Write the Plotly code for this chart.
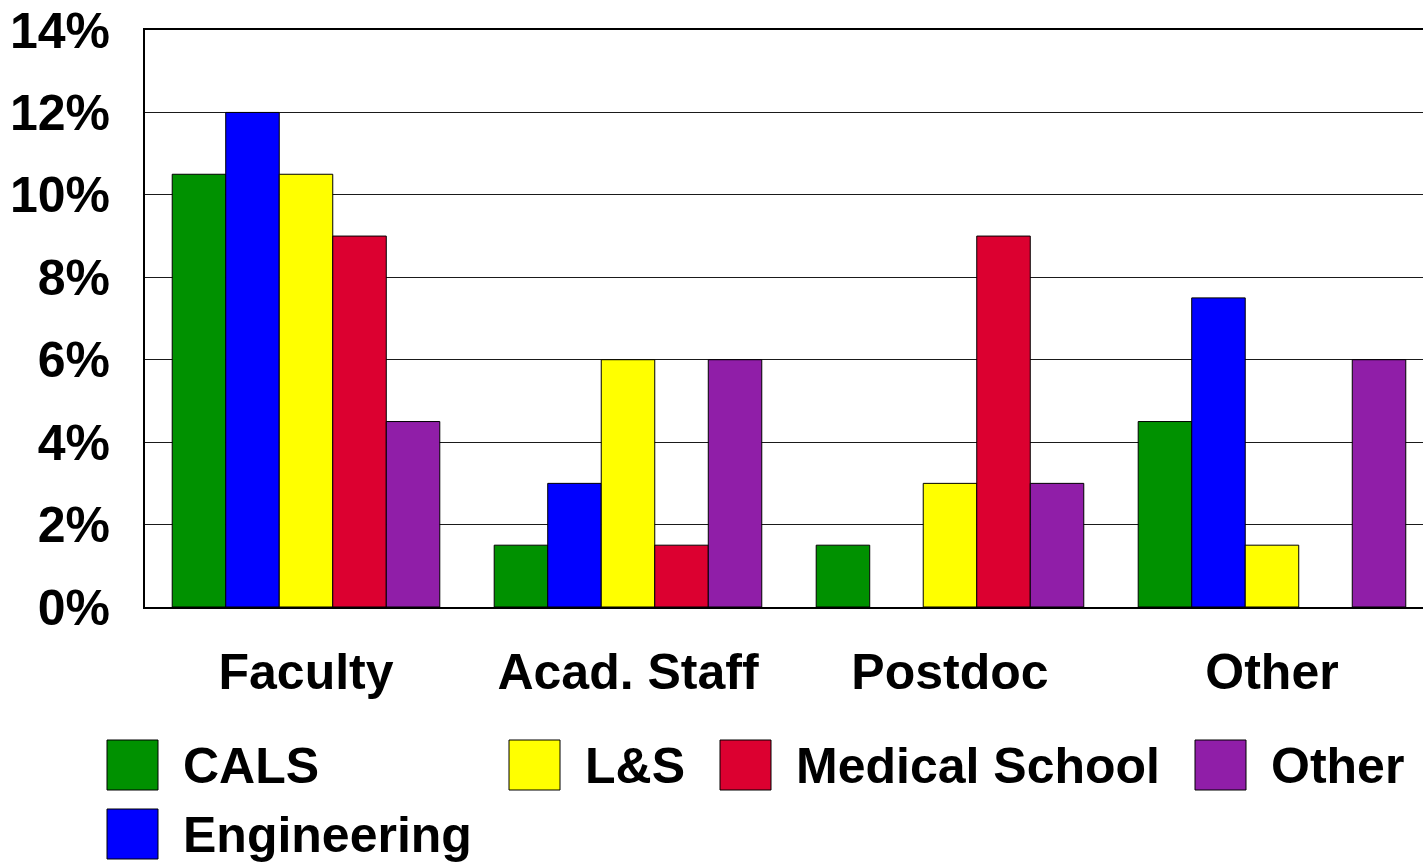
import plotly.graph_objects as go

# Share of respondents by appointment type, split by school/college
categories = ["Faculty", "Acad. Staff", "Postdoc", "Other"]
schools = ["CALS", "Engineering", "L&S", "Medical School", "Other"]
cals = [10.5, 1.5, 1.5, 4.5]
engineering = [12.0, 3.0, 0.0, 7.5]
ls = [10.5, 6.0, 3.0, 1.5]
medical = [9.0, 1.5, 9.0, 0.0]
other = [4.5, 6.0, 3.0, 6.0]
y_ticks = [0, 2, 4, 6, 8, 10, 12, 14]
y_tick_labels = [f"{v}%" for v in y_ticks]

series = [cals, engineering, ls, medical, other]
colors = ["#009100", "#0000FF", "#FFFF00", "#DC0030", "#901EA8"]

W, H = 1423, 865
L, R, T, B = 145, 0, 30, 258
FONT = "Liberation Sans, Arial, sans-serif"
FS = 50

fig = go.Figure()
for name, vals, col in zip(schools, series, colors):
    fig.add_trace(go.Bar(
        x=categories, y=vals, name=name,
        marker=dict(
            color=col,
            # no outline on empty bars
            line=dict(color="#000000", width=[1 if v > 0 else 0 for v in vals]),
        ),
        showlegend=False,
    ))

fig.update_layout(
    width=W, height=H,
    margin=dict(l=L, r=R, t=T, b=B, pad=0),
    barmode="group", bargap=0.169, bargroupgap=0,
    plot_bgcolor="white", paper_bgcolor="white",
    font=dict(family=FONT, size=FS, color="black"),
)
fig.update_xaxes(
    type="category", range=[-0.5, 3.469],
    showgrid=False, showline=True, linecolor="black", linewidth=2,
    mirror=True,
    ticks="", ticklabelstandoff=20,
    tickfont=dict(family=FONT, size=FS, color="black", weight="bold"),
)
fig.update_yaxes(
    range=[0, 14], tickvals=y_ticks, ticktext=y_tick_labels,
    showgrid=True, gridcolor="#1a1a1a", gridwidth=1,
    showline=True, linecolor="black", linewidth=2,
    zeroline=False, ticks="", ticklabelstandoff=23,
    tickfont=dict(family=FONT, size=FS, color="black", weight="bold"),
)

# Legend: swatches and labels laid out in pixel positions below the plot
pw, ph = W - L - R, H - T - B


def px_x(x):
    return (x - L) / pw


def px_y(y):
    return (H - B - y) / ph


legend_items = [
    ("CALS", colors[0], 107, 740),
    ("Engineering", colors[1], 107, 809),
    ("L&S", colors[2], 509, 740),
    ("Medical School", colors[3], 720, 740),
    ("Other", colors[4], 1195, 740),
]
for label, col, x0, y0 in legend_items:
    fig.add_shape(
        type="rect", xref="paper", yref="paper",
        x0=px_x(x0), x1=px_x(x0 + 51), y0=px_y(y0 + 50), y1=px_y(y0),
        fillcolor=col, line=dict(color="#000000", width=1),
    )
    fig.add_annotation(
        xref="paper", yref="paper", x=px_x(x0 + 74), y=px_y(y0 + 26),
        text=label, showarrow=False, xanchor="left", yanchor="middle",
        font=dict(family=FONT, size=FS, color="black", weight="bold"),
    )

fig.write_html("out.html")
